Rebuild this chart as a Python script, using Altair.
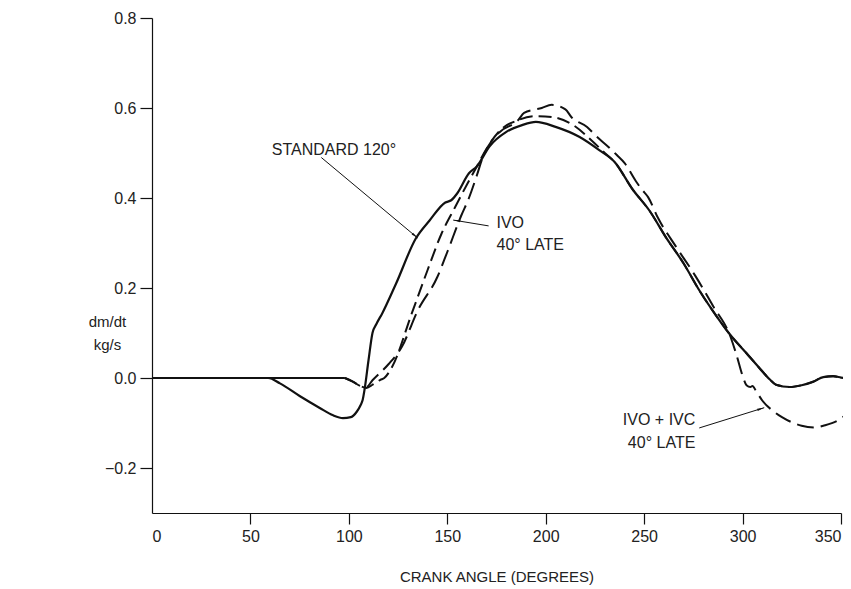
import math
import altair as alt
import pandas as pd

# ---------------- data ----------------
std_deg = [0, 30, 59, 65, 75, 85, 92, 97, 101, 104, 106, 107, 108, 110, 112, 114, 117, 124, 134, 141, 149, 152,
           155, 161, 165, 171.5, 180, 188, 195, 205, 217, 227, 235, 244, 253, 261, 270, 278, 287, 293, 302, 308,
           314, 317, 324, 330, 336, 341, 346, 350, 355]
std_val = [0, 0, 0, -0.012, -0.04, -0.066, -0.083, -0.089, -0.087, -0.075, -0.06, -0.049, -0.025, 0.04, 0.10,
           0.12, 0.144, 0.21, 0.31, 0.35, 0.39, 0.395, 0.41, 0.455, 0.47, 0.515, 0.547, 0.562, 0.569, 0.558, 0.536,
           0.507, 0.48, 0.42, 0.37, 0.313, 0.255, 0.195, 0.136, 0.10, 0.055, 0.025, -0.004, -0.015, -0.02, -0.016,
           -0.008, 0.002, 0.004, 0.001, -0.003]

shared_deg = [0, 98]
shared_val = [0, 0]

ivo_deg = [98, 102, 106, 109, 112, 116, 118, 122, 132, 140, 147, 154, 160, 165, 170, 177, 186, 195, 203, 214,
           224, 230, 235, 244, 253, 261, 270, 278, 287, 293, 302, 308, 314, 317, 324, 330, 336, 341, 346, 350, 355]
ivo_val = [0, -0.008, -0.018, -0.022, -0.015, -0.004, 0.0, 0.025, 0.144, 0.24, 0.32, 0.38, 0.43, 0.47, 0.51,
           0.551, 0.573, 0.582, 0.58, 0.562, 0.525, 0.50, 0.48, 0.42, 0.37, 0.313, 0.255, 0.195, 0.136, 0.10,
           0.055, 0.025, -0.004, -0.015, -0.02, -0.016, -0.008, 0.002, 0.004, 0.001, -0.003]

ivc_deg = [98, 102, 106, 109, 112, 120, 127, 135, 145, 150, 157, 161, 165, 168, 173, 177, 186, 189, 198, 203,
           210, 213, 221, 226, 232, 236, 240, 246, 249, 252, 257, 266, 276, 285, 294, 297, 300, 302, 304, 305,
           307, 310, 316, 320, 330, 337, 341, 349, 355]
ivc_val = [0, -0.008, -0.018, -0.02, -0.005, 0.03, 0.07, 0.15, 0.225, 0.28, 0.36, 0.40, 0.45, 0.49, 0.53, 0.548,
           0.573, 0.589, 0.60, 0.607, 0.597, 0.58, 0.558, 0.536, 0.513, 0.496, 0.478, 0.436, 0.418, 0.402, 0.356,
           0.293, 0.227, 0.16, 0.09, 0.05, 0.005, -0.016, -0.02, -0.018, -0.03, -0.05, -0.075, -0.087, -0.106,
           -0.11, -0.106, -0.093, -0.072]

x_ticks = [0, 50, 100, 150, 200, 250, 300, 350]
y_ticks = [-0.2, 0.0, 0.2, 0.4, 0.6, 0.8]

# annotation labels: text, x (deg), y (value), align
label_text = ["STANDARD 120°", "IVO", "40° LATE", "IVO + IVC", "40° LATE"]
label_x = [124, 175, 175, 276, 276]
label_y = [0.507, 0.345, 0.295, -0.093, -0.145]
label_align = ["right", "left", "left", "right", "right"]

# arrows: start (x1, y1) -> tip (x2, y2)
arrow_x1 = [86, 171, 278]
arrow_y1 = [0.49, 0.338, -0.111]
arrow_x2 = [135, 153, 311]
arrow_y2 = [0.311, 0.351, -0.066]

# ---------------- chart ----------------
W, H = 689, 495
XDOM = [0, 350]
YDOM = [-0.3, 0.8]
px_per_x = W / (XDOM[1] - XDOM[0])
px_per_y = H / (YDOM[1] - YDOM[0])
FONT = "Liberation Sans"
INK = "#111111"

curves = pd.concat([
    pd.DataFrame({"deg": std_deg, "val": std_val, "series": "std"}),
    pd.DataFrame({"deg": shared_deg, "val": shared_val, "series": "shared"}),
    pd.DataFrame({"deg": ivo_deg, "val": ivo_val, "series": "ivo"}),
    pd.DataFrame({"deg": ivc_deg, "val": ivc_val, "series": "ivc"}),
])

xs = alt.Scale(domain=XDOM, nice=False, zero=False)
ys = alt.Scale(domain=YDOM, nice=False, zero=False)

base = alt.Chart(curves)

x_axis = alt.Axis(values=x_ticks, title="CRANK ANGLE (DEGREES)", grid=False, tickSize=11, labelPadding=4,
                  tickOpacity=alt.condition("datum.value == 0", alt.value(0), alt.value(1)),
                  titlePadding=25)
y_axis = alt.Axis(values=y_ticks, format=".1f", title=["dm/dt", "kg/s"], titleAngle=0, titleX=-45,
                  titleY=303, titleAlign="center", titleBaseline="middle", grid=False, tickSize=12,
                  labelPadding=4, titleLineHeight=23)

solid = base.transform_filter("datum.series == 'std' || datum.series == 'shared'").mark_line(
    color=INK, strokeWidth=2.2, interpolate="monotone").encode(
    x=alt.X("deg:Q", scale=xs, axis=x_axis),
    y=alt.Y("val:Q", scale=ys, axis=y_axis),
    detail="series:N",
)

dash_ivo = base.transform_filter("datum.series == 'ivo'").mark_line(
    color=INK, strokeWidth=2, strokeDash=[13, 6], interpolate="monotone").encode(
    x=alt.X("deg:Q", scale=xs), y=alt.Y("val:Q", scale=ys))

dash_ivc = base.transform_filter("datum.series == 'ivc'").mark_line(
    color=INK, strokeWidth=2, strokeDash=[17, 7], interpolate="monotone").encode(
    x=alt.X("deg:Q", scale=xs), y=alt.Y("val:Q", scale=ys))

labels = pd.DataFrame({"text": label_text, "x": label_x, "y": label_y, "align": label_align})
text_layers = []
for al in ["left", "right"]:
    text_layers.append(
        alt.Chart(labels).transform_filter(f"datum.align == '{al}'").mark_text(
            align=al, baseline="middle", font=FONT, fontSize=16, color="#222222").encode(
            x=alt.X("x:Q", scale=xs), y=alt.Y("y:Q", scale=ys), text="text:N"))

angles = []
for a, b, c, d in zip(arrow_x1, arrow_y1, arrow_x2, arrow_y2):
    dx = (c - a) * px_per_x
    dy = -(d - b) * px_per_y
    angles.append(math.degrees(math.atan2(dx, -dy)))
arrows = pd.DataFrame({"x1": arrow_x1, "y1": arrow_y1, "x2": arrow_x2, "y2": arrow_y2, "ang": angles})

arrow_lines = alt.Chart(arrows).mark_rule(color=INK, strokeWidth=1).encode(
    x=alt.X("x1:Q", scale=xs), y=alt.Y("y1:Q", scale=ys), x2="x2:Q", y2="y2:Q")
arrow_heads = alt.Chart(arrows).mark_point(
    shape="M0,0L0.32,2L-0.32,2Z", filled=True, color=INK, size=50, opacity=1).encode(
    x=alt.X("x2:Q", scale=xs), y=alt.Y("y2:Q", scale=ys), angle=alt.Angle("ang:Q", scale=None))

chart = alt.layer(solid, dash_ivo, dash_ivc, arrow_lines, arrow_heads, *text_layers).properties(
    width=W, height=H,
    padding={"left": 144, "top": 10, "right": 2, "bottom": 76},
    autosize=alt.AutoSizeParams(type="none"),
).configure_view(stroke=None).configure_axis(
    domainColor=INK, tickColor=INK, domainWidth=1.2, tickWidth=1.2,
    labelFont=FONT, labelFontSize=16, labelColor="#222222",
    titleFont=FONT, titleFontSize=15, titleColor="#222222", titleFontWeight="normal",
)

chart.save("out.html", embed_options={"renderer": "svg", "actions": False})
